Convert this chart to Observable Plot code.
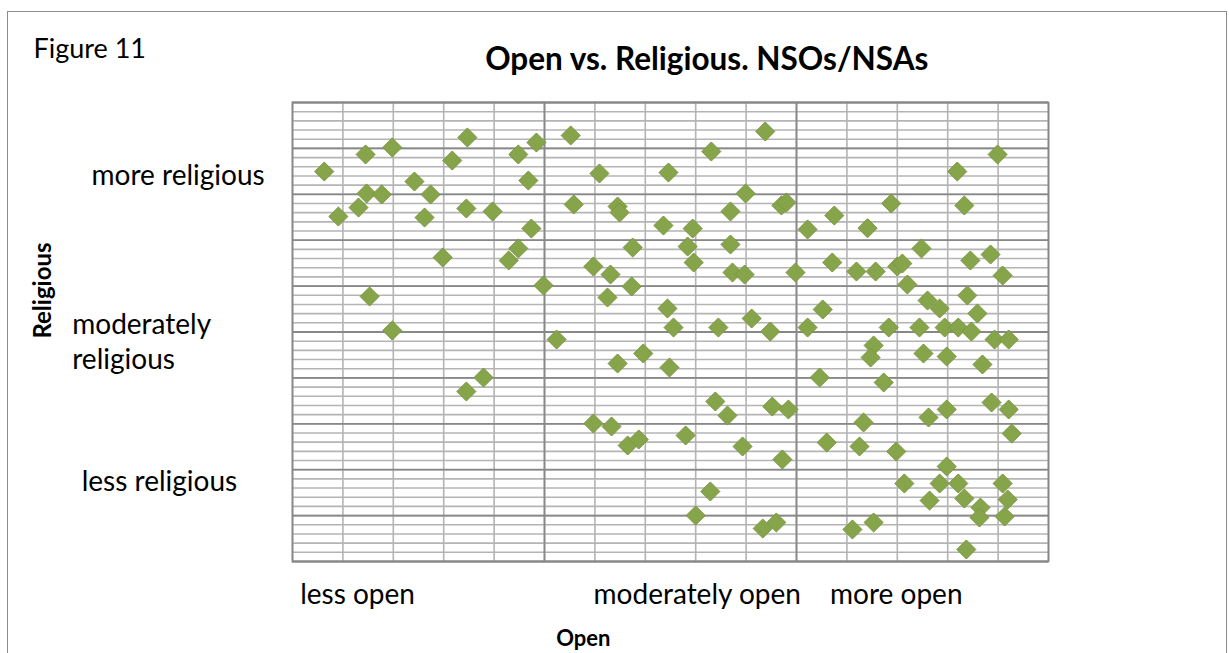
<!DOCTYPE html>
<html><head><meta charset="utf-8">
<script src="https://cdn.jsdelivr.net/npm/d3@7"></script>
<script src="https://cdn.jsdelivr.net/npm/@observablehq/plot@0.6"></script>
<style>
body{margin:0;background:#fff;overflow:hidden;}
#wrap{position:relative;width:1229px;height:653px;overflow:hidden}
#border{position:absolute;left:7px;top:11px;width:1220px;height:700px;border:1.5px solid #8c8c8c;box-sizing:border-box}
#chart{position:absolute;left:0;top:0}
</style></head><body>
<div id="wrap"><div id="border"></div><div id="chart"></div></div>
<script>
// Data: Open score (x) and Religious score (y)
const openVals = [0.63,0.91,1.31,1.45,1.47,1.77,1.98,2.42,2.62,2.74,3.17,3.47,3.45,3.97,4.48,4.68,4.84,4.74,4.48,4.29,2.98,1.53,1.98,4.98,5.24,3.79,3.45,5.52,6.09,5.58,6.45,6.49,6.75,5.97,6.31,6.73,6.25,7.46,7.36,7.94,7.84,7.96,8.31,9.38,8.99,8.69,9.70,9.80,8.69,8.73,8.97,9.98,10.22,10.75,11.41,11.88,13.19,13.99,13.33,12.48,13.45,13.85,14.09,10.71,11.19,11.57,12.00,12.10,12.20,12.60,12.84,13.39,13.59,10.52,10.22,9.11,8.45,9.48,7.56,7.44,6.96,6.45,7.48,11.83,12.44,12.94,13.21,13.47,11.53,11.47,12.52,12.98,13.69,13.93,14.21,10.46,11.73,5.97,6.33,6.65,6.87,7.80,8.39,8.63,8.93,9.52,9.84,10.60,11.25,11.33,9.72,11.98,12.62,12.98,13.87,14.21,14.27,12.98,12.14,12.84,13.21,13.33,12.64,13.65,13.63,14.09,14.19,14.13,13.37,8.29,8.00,9.33,9.60,11.11,11.53];
const religiousVals = [42.48,37.58,38.56,44.34,40.09,39.98,45.10,41.39,37.47,39.98,43.68,46.19,38.45,38.13,44.34,41.50,45.64,36.27,34.10,32.79,33.12,28.87,25.16,30.07,24.18,20.04,18.52,46.41,42.27,38.89,38.67,38.02,34.20,32.14,31.26,29.96,28.76,42.37,36.60,36.27,34.31,32.57,44.66,46.84,40.09,38.13,38.78,39.11,34.53,31.48,31.26,31.48,36.17,37.69,36.31,39.00,42.48,44.34,38.78,34.10,32.79,33.44,31.15,32.57,31.59,31.59,32.14,32.46,30.17,28.43,27.56,28.98,27.02,27.45,25.49,26.47,25.49,25.05,25.49,27.56,22.66,21.57,21.13,25.49,25.49,25.49,25.49,25.05,23.53,22.22,22.66,22.33,21.46,24.18,24.18,20.04,19.50,15.03,14.71,12.64,13.29,13.73,17.43,15.90,12.53,16.88,16.56,12.96,12.53,15.14,11.11,11.98,15.69,16.56,17.32,16.56,13.94,10.35,8.50,8.50,8.50,6.86,6.64,5.88,4.79,8.50,6.75,4.90,1.31,7.63,5.01,3.59,4.25,3.49,4.25];

// Axis category labels (text boxes) and their positions in data units
const xLabelText = ["less open","moderately open","more open"];
const xLabelAt = [1.29, 8.03, 11.98];
const yLabelText = ["more religious","less religious"];
const yLabelAt = [41.94, 8.64];
const yLabelX = [-2.27, -2.64];
const yLabel2Text = ["moderately","religious"];
const yLabel2At = [25.71, 21.90];

const titleText = "Open vs. Religious. NSOs/NSAs";
const figureText = "Figure 11";
const xTitle = "Open";
const yTitle = "Religious";

// Grid
const xDomain = [0, 15], yDomain = [0, 50];
const xMinor = d3.range(0, 16, 1), yMinor = d3.range(0, 51, 1);
const xMajor = [5, 10], yMajor = d3.range(0, 51, 5);

const points = openVals.map((o, i) => ({open: o, religious: religiousVals[i]}));
const xl = xLabelText.map((t, i) => ({t, x: xLabelAt[i], y: -3.7}));
const yl = yLabelText.map((t, i) => ({t, x: yLabelX[i], y: yLabelAt[i]}));
const yl2 = yLabel2Text.map((t, i) => ({t, x: -4.37, y: yLabel2At[i]}));

const font = "Lato, 'Open Sans', sans-serif";
const plot = Plot.plot({
  width: 1229, height: 653,
  marginLeft: 292, marginRight: 181, marginTop: 102, marginBottom: 92,
  x: {domain: xDomain, axis: null},
  y: {domain: yDomain, axis: null},
  style: {fontFamily: font, background: "transparent", overflow: "visible", color: "#000"},
  marks: [
    Plot.ruleX(xMinor, {stroke: "#b4b4b4", strokeWidth: 1.6}),
    Plot.ruleY(yMinor, {stroke: "#b4b4b4", strokeWidth: 1.6}),
    Plot.ruleY(yMajor, {stroke: "#888888", strokeWidth: 1.8}),
    Plot.ruleX(xMajor, {stroke: "#888888", strokeWidth: 1.8}),
    Plot.frame({stroke: "#888888", strokeWidth: 1.8}),
    Plot.dot(points, {x: "open", y: "religious", symbol: "diamond2", r: 8.6, fill: "#86a44a", stroke: "#7a9742", strokeWidth: 1}),
    Plot.text(xl, {x: "x", y: "y", text: "t", fontSize: 28, textAnchor: "middle", clip: false}),
    Plot.text(yl, {x: "x", y: "y", text: "t", fontSize: 28, textAnchor: "middle", clip: false}),
    Plot.text(yl2, {x: "x", y: "y", text: "t", fontSize: 28, textAnchor: "start", clip: false}),
    Plot.text([titleText], {x: 8.22, y: 54.68, text: d => d, fontSize: 31.5, fontWeight: "bold", textAnchor: "middle", clip: false}),
    Plot.text([figureText], {x: -5.14, y: 55.77, text: d => d, fontSize: 27, textAnchor: "start", clip: false}),
    Plot.text([xTitle], {x: 5.77, y: -8.39, text: d => d, fontSize: 22, fontWeight: "bold", textAnchor: "middle", clip: false}),
    Plot.text([yTitle], {x: -4.95, y: 29.52, text: d => d, fontSize: 24, fontWeight: "bold", rotate: -90, textAnchor: "middle", clip: false})
  ]
});
document.getElementById("chart").appendChild(plot);
</script>
</body></html>
